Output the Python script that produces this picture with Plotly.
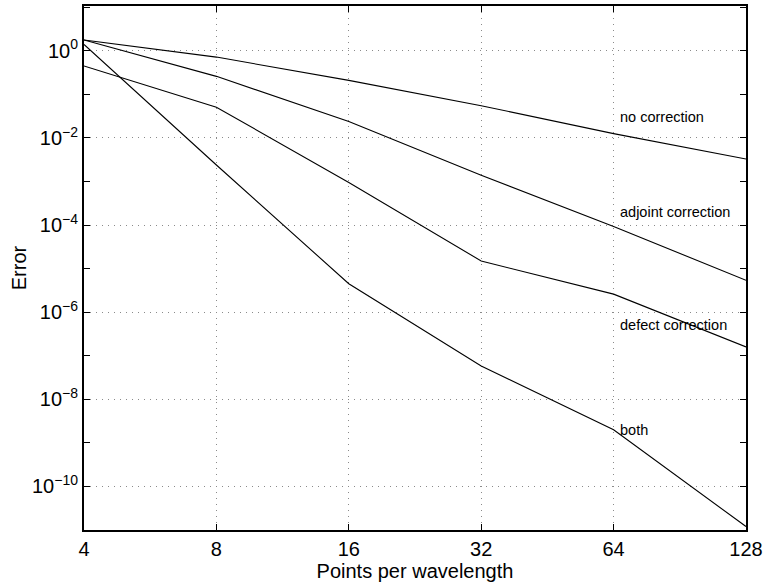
import math
import plotly.graph_objects as go

ppw = [4, 8, 16, 32, 64, 128]
no_correction = [1.78, 0.72, 0.21, 0.055, 0.0126, 0.0033]
adjoint_correction = [1.78, 0.26, 0.024, 0.0014, 9.3e-5, 5.4e-6]
defect_correction = [0.45, 0.051, 0.00095, 1.5e-5, 2.6e-6, 1.6e-7]
both = [1.4, 0.0024, 4.5e-6, 5.8e-8, 2.0e-9, 1.2e-11]

label_names = ["no correction", "adjoint correction", "defect correction", "both"]
label_y = [0.031, 2.0e-4, 5.2e-7, 2.0e-9]
series_vals = [no_correction, adjoint_correction, defect_correction, both]

x_ticks = [4, 8, 16, 32, 64, 128]
y_major = [10.0 ** e for e in range(-10, 1, 2)]
y_major_text = ["10<sup>%d</sup>" % e if e == 0 else "10<sup>\u2212%d</sup>" % (-e) for e in range(-10, 1, 2)]
y_minor = [10.0 ** e for e in range(-11, 2, 2)]

FONT = "Liberation Sans, Arial, Helvetica, sans-serif"

fig = go.Figure()
for name, vals, ly in zip(label_names, series_vals, label_y):
    fig.add_trace(go.Scatter(x=ppw, y=vals, mode="lines", name=name,
                             line=dict(color="black", width=1.1)))
    fig.add_annotation(x=math.log10(64), y=math.log10(ly), xref="x", yref="y",
                       text=name, showarrow=False,
                       xanchor="left", yanchor="middle", xshift=4,
                       font=dict(size=14.5, color="black", family=FONT))

grid = dict(showgrid=True, gridcolor="#8a8a8a", griddash="1px,5px", gridwidth=1)

fig.update_layout(
    width=765, height=587,
    margin=dict(l=84, r=19, t=6, b=57, autoexpand=False),
    paper_bgcolor="white", plot_bgcolor="white",
    showlegend=False,
    font=dict(family=FONT, size=20, color="black"),
    xaxis=dict(type="log", range=[math.log10(4), math.log10(128)], tickvals=x_ticks,
               ticktext=[str(v) for v in x_ticks], ticks="inside", ticklen=6,
               tickcolor="black", tickfont=dict(size=20, family=FONT),
               showline=True, linecolor="black", linewidth=2,
               mirror="ticks", zeroline=False, automargin=False,
               title=dict(text="Points per wavelength", standoff=2,
                          font=dict(size=20, family=FONT)),
               **grid),
    yaxis=dict(type="log", range=[-11, 1.03], tickvals=y_major, ticktext=y_major_text,
               ticks="inside", ticklen=6, tickcolor="black",
               tickfont=dict(size=20, family=FONT), showline=True,
               linecolor="black", linewidth=2, mirror="ticks", zeroline=False,
               automargin=False,
               minor=dict(tickvals=y_minor, ticks="inside", ticklen=6,
                          tickcolor="black", showgrid=False),
               title=dict(text="Error", standoff=0, font=dict(size=20, family=FONT)),
               **grid),
)

fig.write_html("out.html", config={"displayModeBar": False},
               post_script="document.body.style.margin='0';document.body.style.padding='0';")
